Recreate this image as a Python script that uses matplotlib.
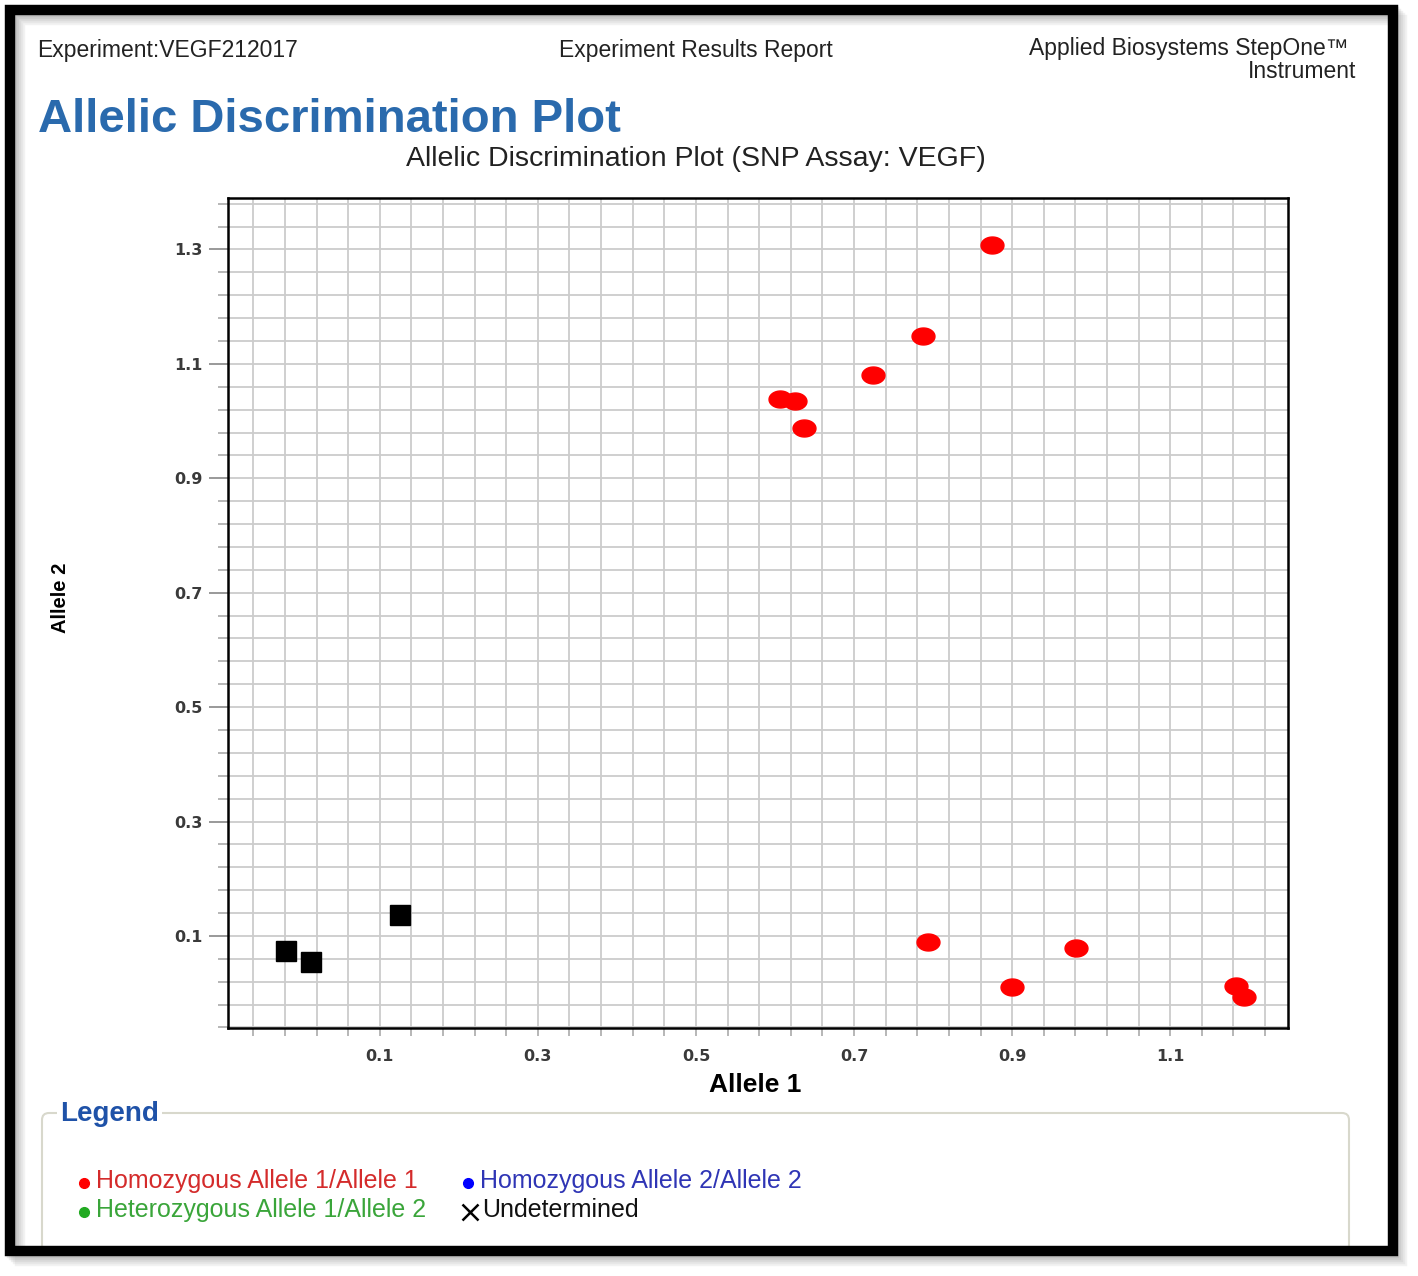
import numpy as np
import matplotlib
matplotlib.use("Agg")
import matplotlib.pyplot as plt
from matplotlib.patches import Rectangle, FancyBboxPatch
from matplotlib.lines import Line2D
from matplotlib.path import Path
from matplotlib.transforms import Affine2D

# ---------------- data ----------------
hom1_x = [0.874, 0.787, 0.724, 0.606, 0.625, 0.637, 0.793, 0.900, 0.981, 1.183, 1.193]
hom1_y = [1.307, 1.148, 1.080, 1.039, 1.035, 0.988, 0.090, 0.010, 0.078, 0.013, -0.006]
undet_x = [-0.019, 0.013, 0.126]
undet_y = [0.074, 0.055, 0.136]

x_ticklabels = [0.1, 0.3, 0.5, 0.7, 0.9, 1.1]
y_ticklabels = [0.1, 0.3, 0.5, 0.7, 0.9, 1.1, 1.3]

legend_labels = ["Homozygous Allele 1/Allele 1", "Homozygous Allele 2/Allele 2",
                 "Heterozygous Allele 1/Allele 2", "Undetermined"]

header_left = "Experiment:VEGF212017"
header_mid = "Experiment Results Report"
header_right = ["Applied Biosystems StepOne\u2122", "Instrument"]
page_title = "Allelic Discrimination Plot"
chart_title = "Allelic Discrimination Plot (SNP Assay: VEGF)"

# ---------------- figure ----------------
W, H = 1418, 1276
fig = plt.figure(figsize=(W / 100, H / 100), dpi=100)
fig.patch.set_facecolor("white")
T = Affine2D().scale(1, -1).translate(0, H)  # top-down pixel coords
SANS = ["Liberation Sans", "DejaVu Sans"]

# header texts
fig.text(37, 50, header_left, transform=T, ha="left", va="center",
         fontsize=16.5, family=SANS, color="#222222")
fig.text(696, 50, header_mid, transform=T, ha="center", va="center",
         fontsize=16.5, family=SANS, color="#222222")
fig.text(1349, 49, header_right[0], transform=T, ha="right", va="center",
         fontsize=16.5, family=SANS, color="#222222")
fig.text(1356, 71, header_right[1], transform=T, ha="right", va="center",
         fontsize=16.5, family=SANS, color="#222222")
fig.text(38, 120, page_title, transform=T, ha="left", va="center",
         fontsize=34, family=SANS, weight="bold", color="#2a6aad")
fig.text(696, 159, chart_title, transform=T, ha="center", va="center",
         fontsize=20.5, family=SANS, color="#222222")

# ---------------- axes ----------------
L, R, TOP, BOT = 228, 1288, 198, 1028
ax = fig.add_axes([L / W, 1 - BOT / H, (R - L) / W, (BOT - TOP) / H])
ax.set_xlim(-0.092, 1.249)
ax.set_ylim(-0.061, 1.39)

step = 0.04
xg = np.round(np.arange(-0.06, 1.249, step), 3)
yg = np.round(np.arange(-0.06, 1.39, step), 3)
ax.set_xticks(x_ticklabels)
ax.set_xticklabels([f"{v:.1f}" for v in x_ticklabels])
ax.set_yticks(y_ticklabels)
ax.set_yticklabels([f"{v:.1f}" for v in y_ticklabels])
ax.set_xticks(xg, minor=True)
ax.set_yticks(yg, minor=True)
ax.grid(True, which="both", color="#cccccc", lw=1.3, zorder=0)
ax.set_axisbelow(True)
ax.tick_params(axis="x", which="both", length=6, width=1.2, color="#aaaaaa",
               pad=9, labelsize=11.5, labelcolor="#3a3a3a")
ax.tick_params(axis="y", which="major", length=14, width=1.2, color="#888888",
               pad=4, labelsize=11.5, labelcolor="#3a3a3a")
ax.tick_params(axis="y", which="minor", length=7, width=1.2, color="#aaaaaa")
for lab in ax.get_xticklabels() + ax.get_yticklabels():
    lab.set_fontweight("bold")
for s in ax.spines.values():
    s.set_color("black")
    s.set_linewidth(1.8)

# ellipse marker (slightly wider than tall)
t = np.linspace(0, 2 * np.pi, 60)
ell = Path(np.column_stack([np.cos(t), 0.74 * np.sin(t)]), closed=True)
ax.plot(hom1_x, hom1_y, ls="none", marker=ell, ms=16.5, color="#ff0000",
        mec="#ff0000", zorder=3)
ax.plot(undet_x, undet_y, ls="none", marker="s", ms=15, color="black", zorder=3)

fig.text(755, 1085, "Allele 1", transform=T, ha="center", va="center",
         fontsize=19, family=SANS, weight="bold", color="black")
fig.text(61, 598, "Allele 2", transform=T, ha="center", va="center",
         rotation=90, fontsize=14.5, family=SANS, weight="bold", color="black")

# ---------------- legend box ----------------
lb = FancyBboxPatch((42, 1113), 1349 - 42, 1252 - 1113,
                    boxstyle="round,pad=0,rounding_size=7", transform=T,
                    fill=False, ec="#d8d8cc", lw=1.5)
fig.add_artist(lb)
fig.text(60, 1114, "Legend", transform=T, ha="left", va="center",
         fontsize=20, family=SANS, weight="bold", color="#1f52a8",
         bbox=dict(fc="white", ec="none", pad=2))

leg_colors = ["#ff0000", "#0000ff", "#22aa22", "black"]
text_colors = ["#d42b2b", "#2f35b5", "#3aa53a", "#111111"]
leg_pos = [(84, 1183), (468, 1183), (84, 1212), (470, 1212)]
for i, (lab, (px, py)) in enumerate(zip(legend_labels, leg_pos)):
    if i < 3:
        fig.add_artist(Line2D([px], [py], transform=T, marker="o", ms=7,
                              color=leg_colors[i], ls="none"))
    else:
        fig.add_artist(Line2D([px], [py], transform=T, marker="x", ms=11,
                              mew=1.8, color=leg_colors[i], ls="none"))
    fig.text(px + 12, py - 2, lab, transform=T, ha="left", va="center",
             fontsize=18, family=SANS, color=text_colors[i])

# ---------------- page border with shadow ----------------
for k, a in enumerate([0.10, 0.10, 0.12, 0.15, 0.18]):
    off = 10 - 2 * k
    fig.add_artist(Rectangle((10 + off, 10 + off), 1382, 1241, transform=T,
                             fill=False, ec="#888888", lw=7.5, alpha=a))
fig.add_artist(Rectangle((10, 10), 1382.5, 1240.5, transform=T,
                         fill=False, ec="black", lw=7.5))

fig.savefig("out.png", dpi=100)
